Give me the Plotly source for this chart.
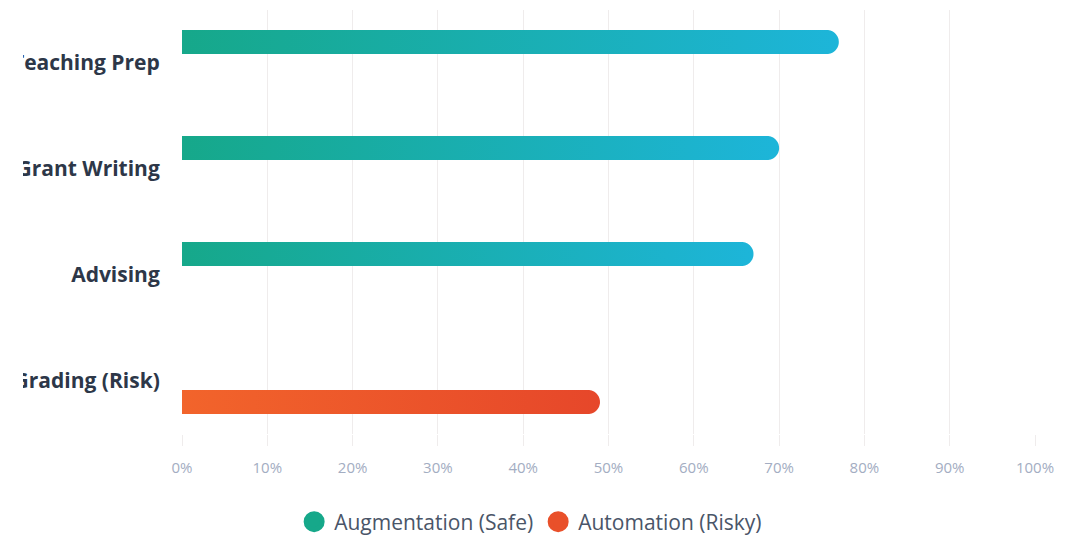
import numpy as np
import plotly.graph_objects as go

# ---- data ----
categories = ["Teaching Prep", "Grant Writing", "Advising", "Grading (Risk)"]
augmentation = [77, 70, 67, 0]
automation = [0, 0, 0, 49]
tick_vals = [0, 10, 20, 30, 40, 50, 60, 70, 80, 90, 100]
tick_labels = ["0%", "10%", "20%", "30%", "40%", "50%", "60%", "70%", "80%", "90%", "100%"]
series_names = ["Augmentation (Safe)", "Automation (Risky)"]

# ---- layout geometry (page has an 8px body margin) ----
PAGE_OFF = 8
W, H = 1079 - PAGE_OFF, 536 - PAGE_OFF
ML, MR, MT, MB = 182 - PAGE_OFF, 44, 10 - PAGE_OFF, 102
plot_w = W - ML - MR
plot_h = H - MT - MB
n = len(categories)
px_per_x = plot_w / 100.0
px_per_y = plot_h / n

bar_px = 24
half_y = bar_px / 2 / px_per_y
rad_x = bar_px / 2 / px_per_x
offset = 21 / px_per_y

aug_scale = [[0, "#16a88a"], [1, "#1db5d9"]]
aut_scale = [[0, "#f2642b"], [1, "#e6472a"]]


def rounded_bar(value, yc):
    theta = np.linspace(-np.pi / 2, np.pi / 2, 31)
    cx = value - rad_x
    xs = [0] + list(cx + rad_x * np.cos(theta)) + [0]
    ys = [yc - half_y] + list(yc + half_y * np.sin(theta)) + [yc + half_y]
    return xs, ys


fig = go.Figure()

for i, v in enumerate(augmentation):
    if v > 0:
        xs, ys = rounded_bar(v, i - offset)
        fig.add_trace(go.Scatter(
            x=xs, y=ys, mode="lines", fill="toself",
            line=dict(width=0, simplify=False),
            fillgradient=dict(type="horizontal", colorscale=aug_scale, start=0, stop=v),
            showlegend=False, hoverinfo="skip"))

for i, v in enumerate(automation):
    if v > 0:
        xs, ys = rounded_bar(v, i + offset)
        fig.add_trace(go.Scatter(
            x=xs, y=ys, mode="lines", fill="toself",
            line=dict(width=0, simplify=False),
            fillgradient=dict(type="horizontal", colorscale=aut_scale, start=0, stop=v),
            showlegend=False, hoverinfo="skip"))

# legend entries
for name, col in zip(series_names, ["#16a88a", "#e9502a"]):
    fig.add_trace(go.Scatter(
        x=[None], y=[None], mode="markers", name=name,
        marker=dict(size=16, color=col, symbol="circle", line=dict(color=col, width=5))))

fig.update_layout(
    width=W, height=H,
    margin=dict(l=ML, r=MR, t=MT, b=MB, autoexpand=False),
    paper_bgcolor="white", plot_bgcolor="white",
    font=dict(family="Open Sans", color="#4a5568"),
    xaxis=dict(
        range=[0, 100], tickvals=tick_vals, ticktext=tick_labels,
        showgrid=True, gridcolor="#efecec", gridwidth=1,
        zeroline=False, showline=False,
        ticks="outside", ticklen=11, tickcolor="#efecec",
        ticklabelstandoff=9,
        tickfont=dict(family="Open Sans", size=15, color="#a3adc2"),
        fixedrange=True),
    yaxis=dict(
        range=[n - 0.5, -0.5], tickvals=list(range(n)), ticktext=categories,
        showgrid=False, zeroline=False, showline=False,
        ticks="outside", ticklen=17, tickcolor="rgba(0,0,0,0)",
        tickfont=dict(family="Open Sans", size=21, color="#2d3748", weight="bold"),
        fixedrange=True),
    legend=dict(
        orientation="h", xref="container", yref="container",
        x=0.488, xanchor="center", y=1 - (522 - PAGE_OFF) / H, yanchor="middle",
        font=dict(family="Open Sans", size=21, color="#4a5568"),
        itemwidth=30, tracegroupgap=0),
    shapes=[dict(type="rect", xref="paper", yref="paper",
                 x0=-0.4, x1=(23 - 182) / plot_w, y0=-0.2, y1=1.1,
                 fillcolor="white", line=dict(width=0), layer="above")],
)

fig.write_html("out.html")
